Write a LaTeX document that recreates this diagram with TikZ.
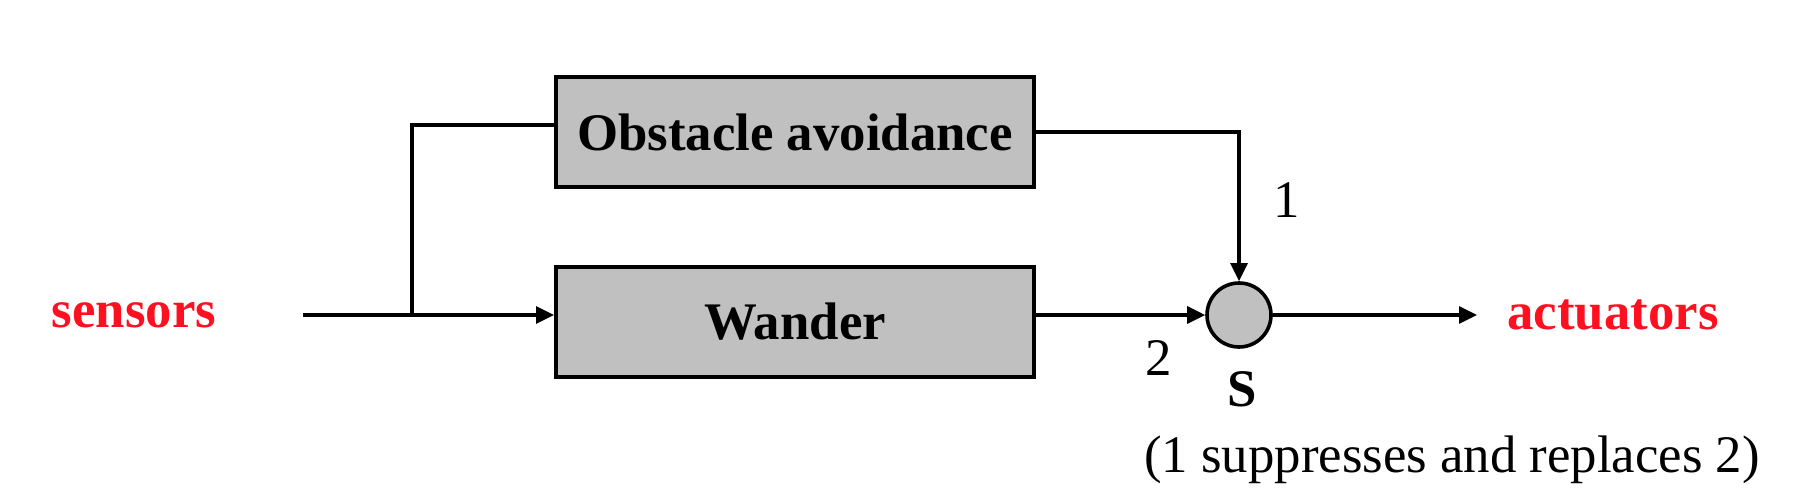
\documentclass[tikz,border=0pt]{standalone}
\usepackage{fontspec}
\setmainfont{Liberation Serif}
\usetikzlibrary{arrows.meta}
\tikzset{>={Triangle[length=4.5pt,width=4.2pt]}}
\newcommand*{\labelsize}{\fontsize{13.2}{15}\selectfont}
\tikzset{block/.style={draw,line width=1pt,fill=boxgray,minimum width=119.5pt,
    minimum height=27.5pt,inner sep=0pt,font=\labelsize\bfseries}}
\tikzset{supnode/.style={draw,circle,line width=0.9pt,fill=boxgray,minimum size=16pt,inner sep=0pt}}
\tikzset{signal/.style={text=sigred,font=\labelsize\bfseries}}
\definecolor{boxgray}{RGB}{192,192,192}
\definecolor{sigred}{RGB}{255,16,32}

\begin{document}
\begin{tikzpicture}[x=0.25pt,y=-0.25pt,line width=0.85pt,font=\labelsize]
\useasboundingbox (0,0) rectangle (1796,502);
\node[block] (obst) at (795,132) {Obstacle avoidance};
\node[block] (wand) at (795,322) {Wander};
\node[supnode] (s) at (1239,315) {};
\node[signal] (sens) at (134,315) {sensors};
\node[signal] (act) at (1613,315) {actuators};
\coordinate (in) at (303,315);
\coordinate (fork) at (412,315);
\coordinate (ftop) at (412,125);
\coordinate (out) at (1477,315);
\draw[->] (in) -- (in -| wand.west);
\draw (fork) -- (ftop) -- (ftop -| obst.west);
\draw[->] (obst.east) -| (s.north);
\draw[->] (s -| wand.east) -- (s.west);
\draw[->] (s.east) -- (out);
\node (one) at (1287,200) {1};
\node (two) at (1159,358) {2};
\node[font=\labelsize\bfseries] (sname) at (1242,389) {S};
\node (note) at (1452,460) {(1 suppresses and replaces 2)};
\end{tikzpicture}
\end{document}
